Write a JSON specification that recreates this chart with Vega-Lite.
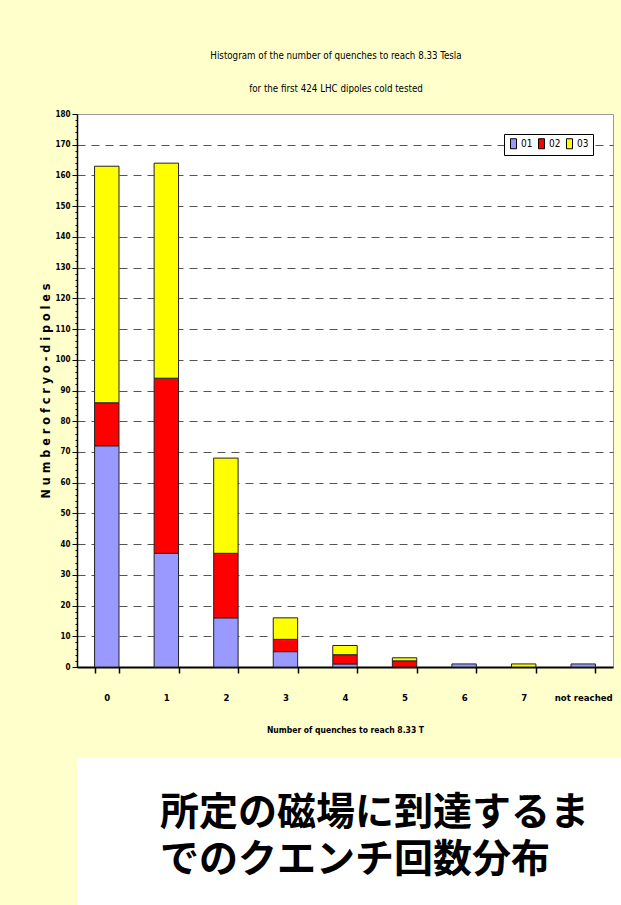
{
  "$schema": "https://vega.github.io/schema/vega-lite/v6.json",
  "background": "#FFFFCC",
  "padding": {"left": 39, "top": 50, "right": 0, "bottom": 0},
  "spacing": 23,
  "resolve": {"legend": {"color": "independent"}},
  "config": {
    "font": "DejaVu Sans Condensed, sans-serif"
  },
  "vconcat": [
    {
      "width": 536,
      "height": 553,
      "view": {"fill": "white", "stroke": "#999999", "strokeWidth": 1},
      "title": {
        "text": ["Histogram of the number of quenches to reach 8.33 Tesla", "for the first 424 LHC dipoles cold tested"],
        "fontSize": 9.7,
        "fontWeight": "normal",
        "lineHeight": 33,
        "offset": 16,
        "dx": -9,
        "color": "black"
      },
      "data": {
        "values": [
          {"quenches": "0", "series": "01", "count": 72},
          {"quenches": "0", "series": "02", "count": 14},
          {"quenches": "0", "series": "03", "count": 77},
          {"quenches": "1", "series": "01", "count": 37},
          {"quenches": "1", "series": "02", "count": 57},
          {"quenches": "1", "series": "03", "count": 70},
          {"quenches": "2", "series": "01", "count": 16},
          {"quenches": "2", "series": "02", "count": 21},
          {"quenches": "2", "series": "03", "count": 31},
          {"quenches": "3", "series": "01", "count": 5},
          {"quenches": "3", "series": "02", "count": 4},
          {"quenches": "3", "series": "03", "count": 7},
          {"quenches": "4", "series": "01", "count": 1},
          {"quenches": "4", "series": "02", "count": 3},
          {"quenches": "4", "series": "03", "count": 3},
          {"quenches": "5", "series": "02", "count": 2},
          {"quenches": "5", "series": "03", "count": 1},
          {"quenches": "6", "series": "01", "count": 1},
          {"quenches": "7", "series": "03", "count": 1},
          {"quenches": "not reached", "series": "01", "count": 1}
        ]
      },
      "mark": {"type": "bar", "stroke": "#222222", "strokeWidth": 1},
      "encoding": {
        "x": {
          "field": "quenches",
          "type": "nominal",
          "sort": ["0", "1", "2", "3", "4", "5", "6", "7", "not reached"],
          "scale": {"paddingInner": 0.59, "paddingOuter": 0.295},
          "axis": {
            "title": "Number of quenches to reach 8.33 T",
            "labelAngle": 0,
            "labelFontSize": 9.5,
            "labelFontWeight": "bold",
            "labelColor": "black",
            "labelPadding": 19,
            "tickSize": 6,
            "tickWidth": 1.5,
            "tickColor": "black",
            "tickBand": "extent",
            "domainColor": "black",
            "domainWidth": 2,
            "titleFontSize": 8.5,
            "titleFontWeight": "bold",
            "titleColor": "black",
            "titlePadding": 24
          }
        },
        "y": {
          "field": "count",
          "type": "quantitative",
          "stack": "zero",
          "scale": {"domain": [0, 180], "nice": false},
          "axis": {
            "values": [0, 2, 4, 6, 8, 10, 12, 14, 16, 18, 20, 22, 24, 26, 28, 30, 32, 34, 36, 38, 40, 42, 44, 46, 48, 50, 52, 54, 56, 58, 60, 62, 64, 66, 68, 70, 72, 74, 76, 78, 80, 82, 84, 86, 88, 90, 92, 94, 96, 98, 100, 102, 104, 106, 108, 110, 112, 114, 116, 118, 120, 122, 124, 126, 128, 130, 132, 134, 136, 138, 140, 142, 144, 146, 148, 150, 152, 154, 156, 158, 160, 162, 164, 166, 168, 170, 172, 174, 176, 178, 180],
            "labelExpr": "datum.value % 10 === 0 ? datum.label : ''",
            "labelOverlap": false,
            "labelFontSize": 8,
            "labelFontWeight": "bold",
            "labelColor": "black",
            "labelPadding": 2,
            "tickSize": {"condition": {"test": "datum.value % 10 === 0", "value": 5}, "value": 2},
            "tickColor": "black",
            "tickWidth": 1,
            "domainColor": "black",
            "domainWidth": 1.5,
            "grid": true,
            "gridColor": "#555555",
            "gridDash": [8, 6],
            "gridWidth": 1,
            "gridOpacity": {"condition": {"test": "datum.value % 10 === 0 && datum.value > 0 && datum.value < 180", "value": 1}, "value": 0},
            "title": "N u m b e r   o f   c r y o - d i p o l e s",
            "titleFontSize": 12.5,
            "titleFontWeight": "bold",
            "titleColor": "black",
            "titlePadding": 2
          }
        },
        "color": {
          "field": "series",
          "type": "nominal",
          "scale": {"domain": ["01", "02", "03"], "range": ["#9999FF", "#FF0000", "#FFFF00"]},
          "legend": {
            "orient": "top-right",
            "offset": 20,
            "direction": "horizontal",
            "title": null,
            "fillColor": "white",
            "strokeColor": "black",
            "padding": 4,
            "labelFontSize": 10,
            "labelColor": "black",
            "labelOffset": 2,
            "columnPadding": 3,
            "symbolType": "M-0.6,-1H0.6V1H-0.6Z",
            "symbolSize": 100,
            "symbolStrokeColor": "black",
            "symbolStrokeWidth": 1,
            "symbolOpacity": 1
          }
        },
        "order": {"field": "series"}
      }
    },
    {
      "width": 544,
      "height": 149,
      "view": {"fill": "white", "stroke": null},
      "data": {"values": [{"caption": ["所定の磁場に到達するま", "でのクエンチ回数分布"]}]},
      "mark": {
        "type": "text",
        "align": "left",
        "baseline": "middle",
        "dx": -189,
        "dy": -20,
        "fontSize": 39,
        "lineHeight": 47,
        "font": "Noto Sans CJK JP",
        "fontWeight": "bold",
        "color": "black"
      },
      "encoding": {"text": {"field": "caption"}}
    }
  ]
}
